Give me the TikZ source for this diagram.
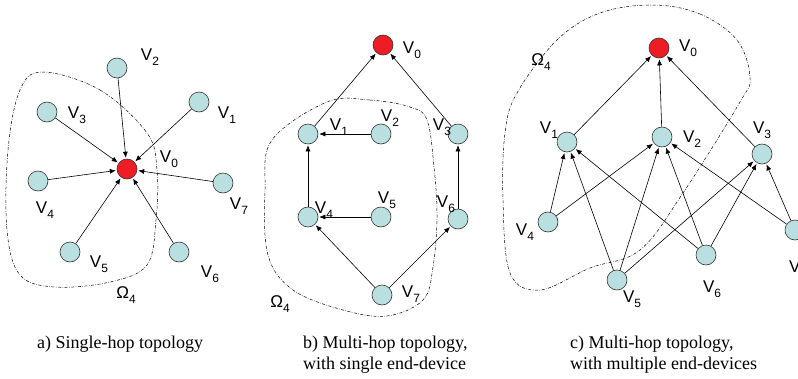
\documentclass[tikz,border=0pt]{standalone}
\usepackage{fontspec}
\setmainfont{Liberation Serif}
\newfontfamily\labfont{Liberation Sans}
\usetikzlibrary{arrows.meta}
\definecolor{devfill}{HTML}{BADFE0}
\definecolor{sinkfill}{HTML}{EE1C25}
\newcommand\subx[1]{\raisebox{-5pt}{\fontsize{12}{12}\selectfont #1}}
\newcommand\vl[2]{V\subx{#2}}
\begin{document}
\begin{tikzpicture}[x=1pt,y=-1pt,
  dev/.style={circle,draw=black!80,line width=0.6pt,fill=devfill,minimum size=20pt,inner sep=0pt},
  sink/.style={dev,fill=sinkfill},
  lab/.style={font=\labfont\fontsize{17}{17}\selectfont,inner sep=0pt},
  captxt/.style={font=\fontsize{18}{21}\selectfont,align=left,anchor=north west,inner sep=0pt},
  edge/.style={-{Latex[length=6pt,width=5pt]},line width=0.6pt,shorten >=1pt},
  region/.style={line width=0.5pt,dash pattern=on 3pt off 1.5pt on 0.6pt off 1.5pt}]
\useasboundingbox (0,0) rectangle (798,378);
\fill[white] (0,0) rectangle (798,378);

% ---------- Panel a ----------
\draw[region] plot[smooth cycle,tension=0.6] coordinates {(43,72) (100,90) (147,133) (157,170) (156,220) (147,265) (110,282) (55,287) (20,275) (7,230) (8,150) (20,90)};
\node[sink] (a0) at (127,169) {};
\node[dev] (a1) at (199,102) {};
\node[dev] (a2) at (117,68) {};
\node[dev] (a3) at (47,112) {};
\node[dev] (a4) at (38,181) {};
\node[dev] (a5) at (70,252) {};
\node[dev] (a6) at (179,252) {};
\node[dev] (a7) at (223,183) {};
\foreach \i in {1,...,7} \draw[edge] (a\i) -- (a0);
\node[lab] (la0) at (169,159) {\vl{}{0}};
\node[lab] (la1) at (227,115) {\vl{}{1}};
\node[lab] (la2) at (150,57) {\vl{}{2}};
\node[lab] (la3) at (77,115) {\vl{}{3}};
\node[lab] (la4) at (45,210) {\vl{}{4}};
\node[lab] (la5) at (99,264) {\vl{}{5}};
\node[lab] (la6) at (210,274) {\vl{}{6}};
\node[lab] (la7) at (239,206) {\vl{}{7}};
\node[lab] (oa) at (126,295) {Ω\subx{4}};
\node[captxt] (ca) at (37,336) {a) Single-hop topology};

% ---------- Panel b ----------
\draw[region] plot[smooth cycle,tension=0.6] coordinates {(327,102) (370,100) (410,107) (427,120) (434,167) (437,217) (433,267) (423,300) (387,316) (343,310) (293,290) (268,255) (265,190) (272,140)};
\node[sink] (b0) at (383,45) {};
\node[dev] (b1) at (308,134) {};
\node[dev] (b2) at (381,134) {};
\node[dev] (b3) at (458,134) {};
\node[dev] (b4) at (308,217) {};
\node[dev] (b5) at (381,217) {};
\node[dev] (b6) at (458,219) {};
\node[dev] (b7) at (382,295) {};
\draw[edge] (b1) -- (b0);
\draw[edge] (b3) -- (b0);
\draw[edge] (b2) -- (b1);
\draw[edge] (b4) -- (b1);
\draw[edge] (b5) -- (b4);
\draw[edge] (b7) -- (b4);
\draw[edge] (b7) -- (b6);
\draw[edge] (b6) -- (b3);
\node[lab] (lb0) at (412,50) {\vl{}{0}};
\node[lab] (lb1) at (339,127) {\vl{}{1}};
\node[lab] (lb2) at (390,118) {\vl{}{2}};
\node[lab] (lb3) at (442,127) {\vl{}{3}};
\node[lab] (lb4) at (324,210) {\vl{}{4}};
\node[lab] (lb5) at (387,200) {\vl{}{5}};
\node[lab] (lb6) at (446,204) {\vl{}{6}};
\node[lab] (lb7) at (411,294) {\vl{}{7}};
\node[lab] (ob) at (280,304) {Ω\subx{4}};
\node[captxt] (cb) at (303,336) {b) Multi-hop topology,\\with single end-device};

% ---------- Panel c ----------
\draw[region] plot[smooth cycle,tension=0.6] coordinates {(653,5) (700,14) (737,40) (750,77) (740,102) (683,193) (640,250) (590,268) (540,290) (510,273) (503,200) (505,133) (517,93) (557,40) (600,13)};
\node[sink] (c0) at (659,48) {};
\node[dev] (c1) at (567,142) {};
\node[dev] (c2) at (662,137) {};
\node[dev] (c3) at (762,154) {};
\node[dev] (c4) at (548,222) {};
\node[dev] (c5) at (617,280) {};
\node[dev] (c6) at (706,255) {};
\node[dev] (c7) at (795,230) {};
\draw[edge] (c1) -- (c0);
\draw[edge] (c2) -- (c0);
\draw[edge] (c3) -- (c0);
\draw[edge] (c4) -- (c1);
\draw[edge] (c4) -- (c2);
\draw[edge] (c5) -- (c1);
\draw[edge] (c5) -- (c2);
\draw[edge] (c5) -- (c3);
\draw[edge] (c6) -- (c1);
\draw[edge] (c6) -- (c2);
\draw[edge] (c6) -- (c3);
\draw[edge] (c7) -- (c2);
\draw[edge] (c7) -- (c3);
\node[lab] (lc0) at (688,48) {\vl{}{0}};
\node[lab] (lc1) at (549,130) {\vl{}{1}};
\node[lab] (lc2) at (692,139) {\vl{}{2}};
\node[lab] (lc3) at (762,130) {\vl{}{3}};
\node[lab] (lc4) at (525,232) {\vl{}{4}};
\node[lab] (lc5) at (632,299) {\vl{}{5}};
\node[lab] (lc6) at (712,289) {\vl{}{6}};
\node[lab] (lc7) at (798,269) {\vl{}{7}};
\node[lab] (oc) at (541,62) {Ω\subx{4}};
\node[captxt] (cc) at (570,336) {c) Multi-hop topology,\\with multiple end-devices};
\end{tikzpicture}
\end{document}
